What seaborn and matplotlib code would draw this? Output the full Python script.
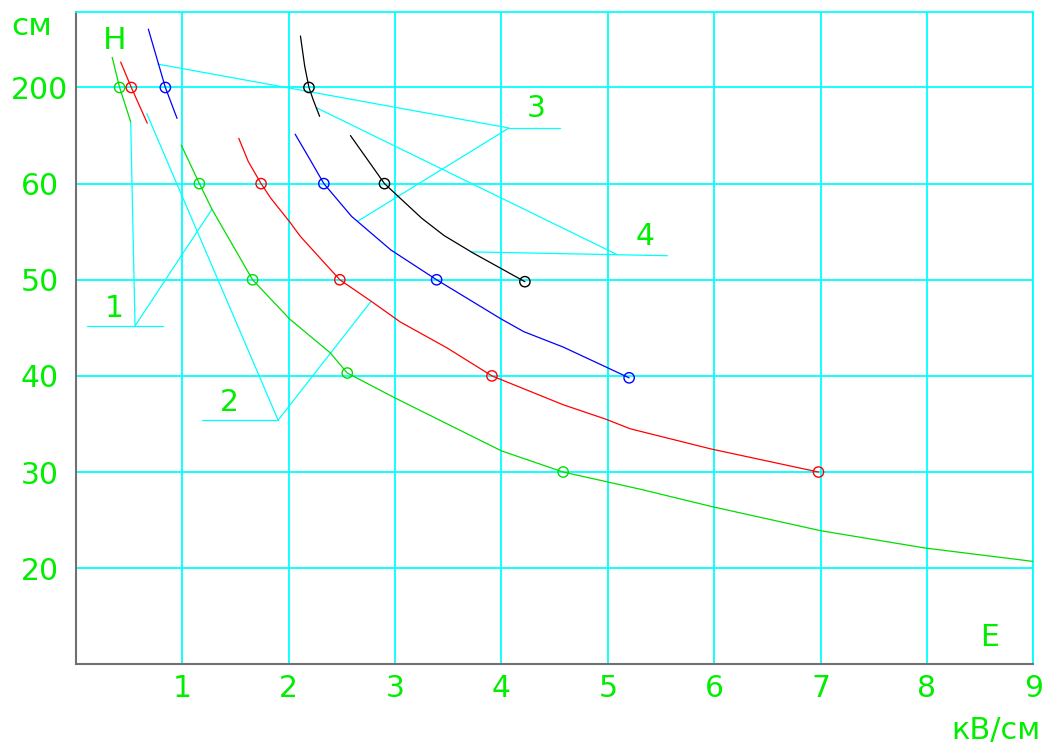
import numpy as np
import matplotlib
matplotlib.use("Agg")
import matplotlib.pyplot as plt
import seaborn as sns

# ---- curve data: field strength E (кВ/см) vs. height H (см) ----
green_upper_E = [0.34, 0.41, 0.514]
green_upper_H = [244, 200, 150]
green_lower_E = [0.99, 1.16, 1.28, 1.66, 2.01, 2.39, 2.55, 3.00, 4.00, 4.58, 5.31, 5.98, 7.00, 7.98, 9.00]
green_lower_H = [116, 60, 57.3, 50, 45.9, 42.4, 40.3, 37.7, 32.2, 30.0, 28.2, 26.4, 23.9, 22.1, 20.7]

red_upper_E = [0.42, 0.52, 0.67]
red_upper_H = [237, 200, 148]
red_lower_E = [1.53, 1.62, 1.74, 1.83, 2.01, 2.11, 2.48, 2.77, 3.05, 3.49, 3.91, 4.58, 4.98, 5.21, 5.97, 6.98]
red_lower_H = [126, 92, 60, 58.5, 56.0, 54.5, 50, 47.8, 45.6, 42.9, 40, 37.0, 35.5, 34.5, 32.4, 30]

blue_upper_E = [0.68, 0.84, 0.95]
blue_upper_H = [285, 200, 155]
blue_lower_E = [2.06, 2.20, 2.33, 2.59, 2.96, 3.39, 4.00, 4.21, 4.58, 5.20]
blue_lower_H = [132, 95, 60, 56.6, 53.1, 50, 45.9, 44.6, 43.0, 39.8]

black_upper_E = [2.11, 2.15, 2.19, 2.23, 2.29]
black_upper_H = [275, 231, 200, 182, 158]
black_lower_E = [2.58, 2.90, 3.25, 3.46, 3.73, 4.22]
black_lower_H = [130, 60, 56.4, 54.6, 52.8, 49.8]

# measured points (circles)
green_mark_E = [0.41, 1.16, 1.66, 2.55, 4.58]
green_mark_H = [200, 60, 50, 40.3, 30]
red_mark_E = [0.52, 1.74, 2.48, 3.91, 6.98]
red_mark_H = [200, 60, 50, 40, 30]
blue_mark_E = [0.84, 2.33, 3.39, 5.20]
blue_mark_H = [200, 60, 50, 39.8]
black_mark_E = [2.19, 2.90, 4.22]
black_mark_H = [200, 60, 49.8]

# axis ticks
x_ticks = [1, 2, 3, 4, 5, 6, 7, 8, 9]
y_ticks = [20, 30, 40, 50, 60, 200]

# curve numbers and their leader lines (E, H)
label_text = ["1", "2", "3", "4"]
label_pos = [(0.357, 46.1), (1.443, 36.4), (4.324, 156.9), (5.349, 53.6)]
leaders = [
    [[(0.10, 45.2), (0.82, 45.2)], [(0.514, 150), (0.555, 45.2), (1.276, 57.3)]],
    [[(1.185, 35.4), (1.90, 35.4)], [(0.665, 162), (1.90, 35.4), (2.77, 47.7)]],
    [[(4.07, 141), (4.55, 141)], [(0.77, 234), (4.07, 141), (2.65, 56.1)]],
    [[(3.72, 52.9), (5.56, 52.5)], [(2.26, 170.5), (5.09, 52.6)]],
]

# ---- non-uniform height axis: evenly spaced gridlines 20..60, then 200 ----
H_KNOTS = [10, 20, 30, 40, 50, 60, 200, 340]
P_KNOTS = [0, 1, 2, 3, 4, 5, 6, 7]


def h_forward(h):
    return np.interp(h, H_KNOTS, P_KNOTS)


def h_inverse(p):
    return np.interp(p, P_KNOTS, H_KNOTS)


sns.set_theme(style="white")
plt.rcParams["font.family"] = ["DejaVu Sans"]

TXT = "#00ee00"
CYAN = "#00ffff"
FS = 21.5

fig = plt.figure(figsize=(10.44, 7.44), dpi=100)
ax = fig.add_axes([0.0728, 0.1071, 0.9170, 0.8774])
ax.set_yscale("function", functions=(h_forward, h_inverse))

curves = [
    (green_upper_E, green_upper_H, "#00dd00"),
    (green_lower_E, green_lower_H, "#00dd00"),
    (red_upper_E, red_upper_H, "#ff0000"),
    (red_lower_E, red_lower_H, "#ff0000"),
    (blue_upper_E, blue_upper_H, "#0000ff"),
    (blue_lower_E, blue_lower_H, "#0000ff"),
    (black_upper_E, black_upper_H, "#000000"),
    (black_lower_E, black_lower_H, "#000000"),
]
for xs, ys, c in curves:
    sns.lineplot(x=xs, y=ys, ax=ax, color=c, lw=0.9, sort=False,
                 estimator=None, zorder=3)

marks = [
    (green_mark_E, green_mark_H, "#00dd00"),
    (red_mark_E, red_mark_H, "#ff0000"),
    (blue_mark_E, blue_mark_H, "#0000ff"),
    (black_mark_E, black_mark_H, "#000000"),
]
for xs, ys, c in marks:
    sns.scatterplot(x=xs, y=ys, ax=ax, s=55, facecolor="none",
                    edgecolor=c, linewidth=1.0, zorder=4)

for segs in leaders:
    for seg in segs:
        ex, hy = zip(*seg)
        ax.plot(ex, hy, color=CYAN, lw=0.9, zorder=2)

for txt, (ex, hy) in zip(label_text, label_pos):
    ax.text(ex, hy, txt, color=TXT, fontsize=FS, ha="center", va="baseline")

ax.text(0.367, 255.9, "H", color=TXT, fontsize=22.5, ha="center", va="baseline")
ax.text(8.593, 11.9, "E", color=TXT, fontsize=FS, ha="center", va="baseline")
fig.text(0.0302, 0.953, "см", color=TXT, fontsize=22.5, ha="center", va="baseline")
fig.text(0.954, 0.0063, "кВ/см", color=TXT, fontsize=22, ha="center", va="baseline")

ax.set_xlim(0, 9)
ax.set_ylim(10, h_inverse(6.79))
ax.set_xticks(x_ticks)
ax.set_xticklabels([str(t) for t in x_ticks])
ax.set_yticks(y_ticks)
ax.set_yticklabels([str(t) for t in y_ticks])
ax.set_xlabel("")
ax.set_ylabel("")
ax.tick_params(axis="x", length=0, pad=7, labelsize=FS, labelcolor=TXT)
ax.tick_params(axis="y", length=0, pad=26.3, labelsize=FS, labelcolor=TXT)
for lab in ax.get_yticklabels():
    lab.set_ha("center")

ax.set_axisbelow(True)
ax.grid(True, color=CYAN, lw=1.3)
for side in ("left", "bottom"):
    ax.spines[side].set_color("#707070")
    ax.spines[side].set_linewidth(1.5)
for side in ("top", "right"):
    ax.spines[side].set_color(CYAN)
    ax.spines[side].set_linewidth(1.3)

fig.savefig("out.png", dpi=100, facecolor="white")
